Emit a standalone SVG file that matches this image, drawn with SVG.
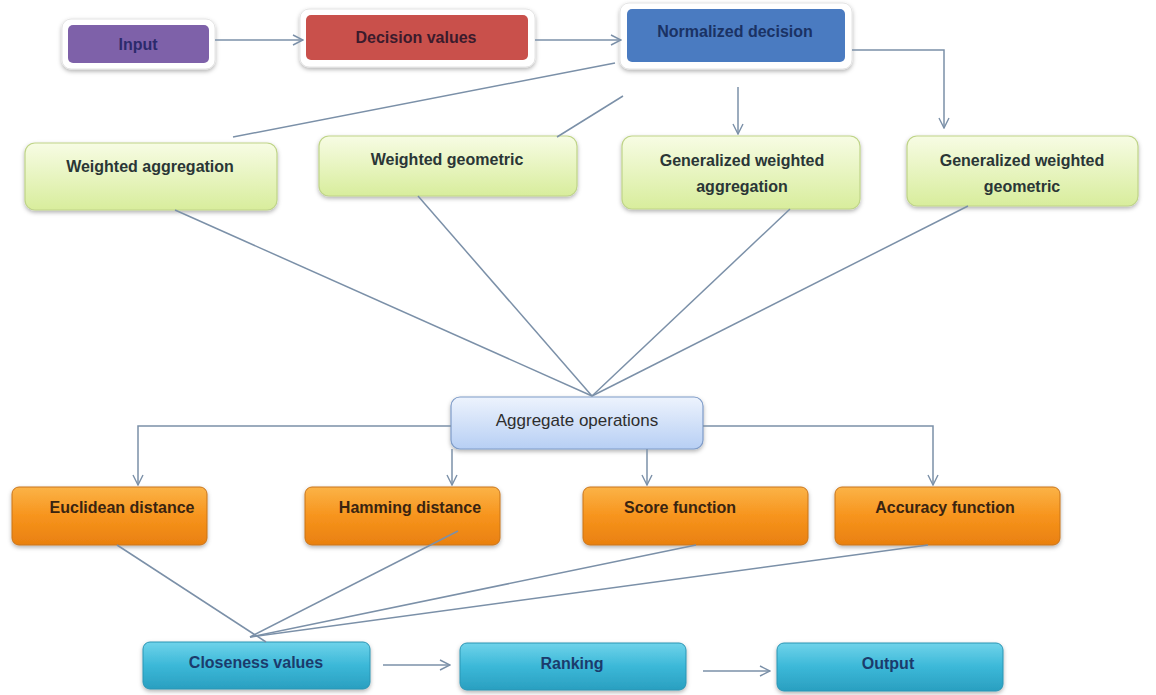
<svg xmlns="http://www.w3.org/2000/svg" width="1156" height="695" viewBox="0 0 1156 695">
<style>
.t{font-family:"Liberation Sans",Arial,sans-serif;font-weight:bold;font-size:16px;text-anchor:middle;dominant-baseline:central}
.ag{font-family:"Liberation Sans",Arial,sans-serif;font-size:17px;text-anchor:middle;dominant-baseline:central;fill:#2e2e2e}
.frame{fill:#fff;stroke:#e4e4e4;stroke-width:1;filter:url(#sh)}
.green{fill:url(#gG);stroke:#bfd488;stroke-width:1.2;filter:url(#sh)}
.orange{fill:url(#gO);stroke:#c9741a;stroke-width:1;filter:url(#sh)}
.cyan{fill:url(#gC);stroke:#2b95b4;stroke-width:1;filter:url(#sh)}
.aggbox{fill:url(#gB);stroke:#7f9cc8;stroke-width:1.2;filter:url(#sh)}
.c{fill:none;stroke:#7b90a8;stroke-width:1.5}
.a{marker-end:url(#ar)}
</style>
<defs>
<filter id="sh" x="-10%" y="-20%" width="120%" height="150%">
<feDropShadow dx="0" dy="2" stdDeviation="2" flood-color="#000" flood-opacity="0.3"/>
</filter>
<linearGradient id="gG" x1="0" y1="0" x2="0" y2="1"><stop offset="0" stop-color="#f7fce4"/><stop offset="1" stop-color="#d8ed9c"/></linearGradient>
<linearGradient id="gO" x1="0" y1="0" x2="0" y2="1"><stop offset="0" stop-color="#fbb347"/><stop offset="0.5" stop-color="#f7941d"/><stop offset="1" stop-color="#e9800f"/></linearGradient>
<linearGradient id="gC" x1="0" y1="0" x2="0" y2="1"><stop offset="0" stop-color="#6fd3ea"/><stop offset="0.5" stop-color="#3bb8d8"/><stop offset="1" stop-color="#2a9fc0"/></linearGradient>
<linearGradient id="gB" x1="0" y1="0" x2="0" y2="1"><stop offset="0" stop-color="#edf3fd"/><stop offset="1" stop-color="#b7cff4"/></linearGradient>
<marker id="ar" viewBox="0 0 12 12" refX="11" refY="6" markerWidth="12" markerHeight="12" markerUnits="userSpaceOnUse" orient="auto">
<path d="M1,1 L11,6 L1,11" fill="none" stroke="#7b90a8" stroke-width="1.4"/>
</marker>
</defs>
<rect width="1156" height="695" fill="#fff"/>

<g id="input">
<rect class="frame" x="62" y="19" width="153" height="50" rx="9"/>
<rect x="68" y="25" width="141" height="38" rx="5" fill="#7e61a9"/>
<text class="t" x="138" y="44" fill="#2c2a6c" font-size="17">Input</text>
</g>
<g id="decision">
<rect class="frame" x="300" y="9" width="235" height="58" rx="9"/>
<rect x="306" y="15" width="222" height="45" rx="5" fill="#c9504b"/>
<text class="t" x="416" y="37" fill="#3b1b2c">Decision values</text>
</g>
<g id="normalized">
<rect class="frame" x="620" y="3" width="232" height="66" rx="9"/>
<rect x="627" y="9" width="218" height="53" rx="5" fill="#4a7bc1"/>
<text class="t" x="735" y="31" fill="#1a3264">Normalized decision</text>
</g>

<g id="wagg">
<rect class="green" x="25" y="143" width="252" height="67" rx="10"/>
<text class="t" x="150" y="166" fill="#2a3636">Weighted aggregation</text>
</g>
<g id="wgeo">
<rect class="green" x="319" y="136" width="258" height="60" rx="10"/>
<text class="t" x="447" y="159" fill="#2a3636">Weighted geometric</text>
</g>
<g id="gwagg">
<rect class="green" x="622" y="136" width="238" height="73" rx="10"/>
<text class="t" x="742" y="160" fill="#2a3636">Generalized weighted</text>
<text class="t" x="742" y="186" fill="#2a3636">aggregation</text>
</g>
<g id="gwgeo">
<rect class="green" x="907" y="136" width="231" height="70" rx="10"/>
<text class="t" x="1022" y="160" fill="#2a3636">Generalized weighted</text>
<text class="t" x="1022" y="186" fill="#2a3636">geometric</text>
</g>

<g id="aggregate">
<rect class="aggbox" x="451" y="397" width="252" height="52" rx="9"/>
<text class="ag" x="577" y="420">Aggregate operations</text>
</g>

<g id="euclid">
<rect class="orange" x="12" y="487" width="195" height="58" rx="7"/>
<text class="t" x="122" y="507" fill="#3a2410">Euclidean distance</text>
</g>
<g id="hamming">
<rect class="orange" x="305" y="487" width="195" height="58" rx="7"/>
<text class="t" x="410" y="507" fill="#3a2410">Hamming distance</text>
</g>
<g id="score">
<rect class="orange" x="583" y="487" width="225" height="58" rx="7"/>
<text class="t" x="680" y="507" fill="#3a2410">Score function</text>
</g>
<g id="accuracy">
<rect class="orange" x="835" y="487" width="225" height="58" rx="7"/>
<text class="t" x="945" y="507" fill="#3a2410">Accuracy function</text>
</g>

<g id="closeness">
<rect class="cyan" x="143" y="642" width="227" height="47" rx="7"/>
<text class="t" x="256" y="662" fill="#1b3b6c">Closeness values</text>
</g>
<g id="ranking">
<rect class="cyan" x="460" y="643" width="226" height="47" rx="7"/>
<text class="t" x="572" y="663" fill="#1b3b6c">Ranking</text>
</g>
<g id="output">
<rect class="cyan" x="777" y="643" width="226" height="48" rx="7"/>
<text class="t" x="888" y="663" fill="#1b3b6c">Output</text>
</g>

<g id="connectors">
<line class="c a" x1="215" y1="40" x2="303" y2="40"/>
<line class="c a" x1="535" y1="40" x2="621" y2="40"/>
<polyline class="c a" points="852,50 944,50 944,128"/>
<line class="c a" x1="738" y1="87" x2="738" y2="134"/>
<line class="c" x1="615" y1="63" x2="233" y2="137"/>
<line class="c" x1="623" y1="96" x2="557" y2="137"/>
<line class="c" x1="175" y1="210" x2="592" y2="396"/>
<line class="c" x1="418" y1="196" x2="592" y2="396"/>
<line class="c" x1="790" y1="209" x2="592" y2="396"/>
<line class="c" x1="968" y1="206" x2="592" y2="396"/>
<polyline class="c a" points="451,426 138,426 138,485"/>
<line class="c a" x1="452" y1="449" x2="452" y2="485"/>
<line class="c a" x1="647" y1="449" x2="647" y2="485"/>
<polyline class="c a" points="703,426 933,426 933,485"/>
<line class="c" x1="117" y1="545" x2="266" y2="642"/>
<line class="c" x1="458" y1="531" x2="250" y2="637"/>
<line class="c" x1="696" y1="545" x2="250" y2="637"/>
<line class="c" x1="928" y1="545" x2="250" y2="637"/>
<line class="c a" x1="383" y1="665" x2="450" y2="665"/>
<line class="c a" x1="703" y1="671" x2="770" y2="671"/>
</g>
</svg>
